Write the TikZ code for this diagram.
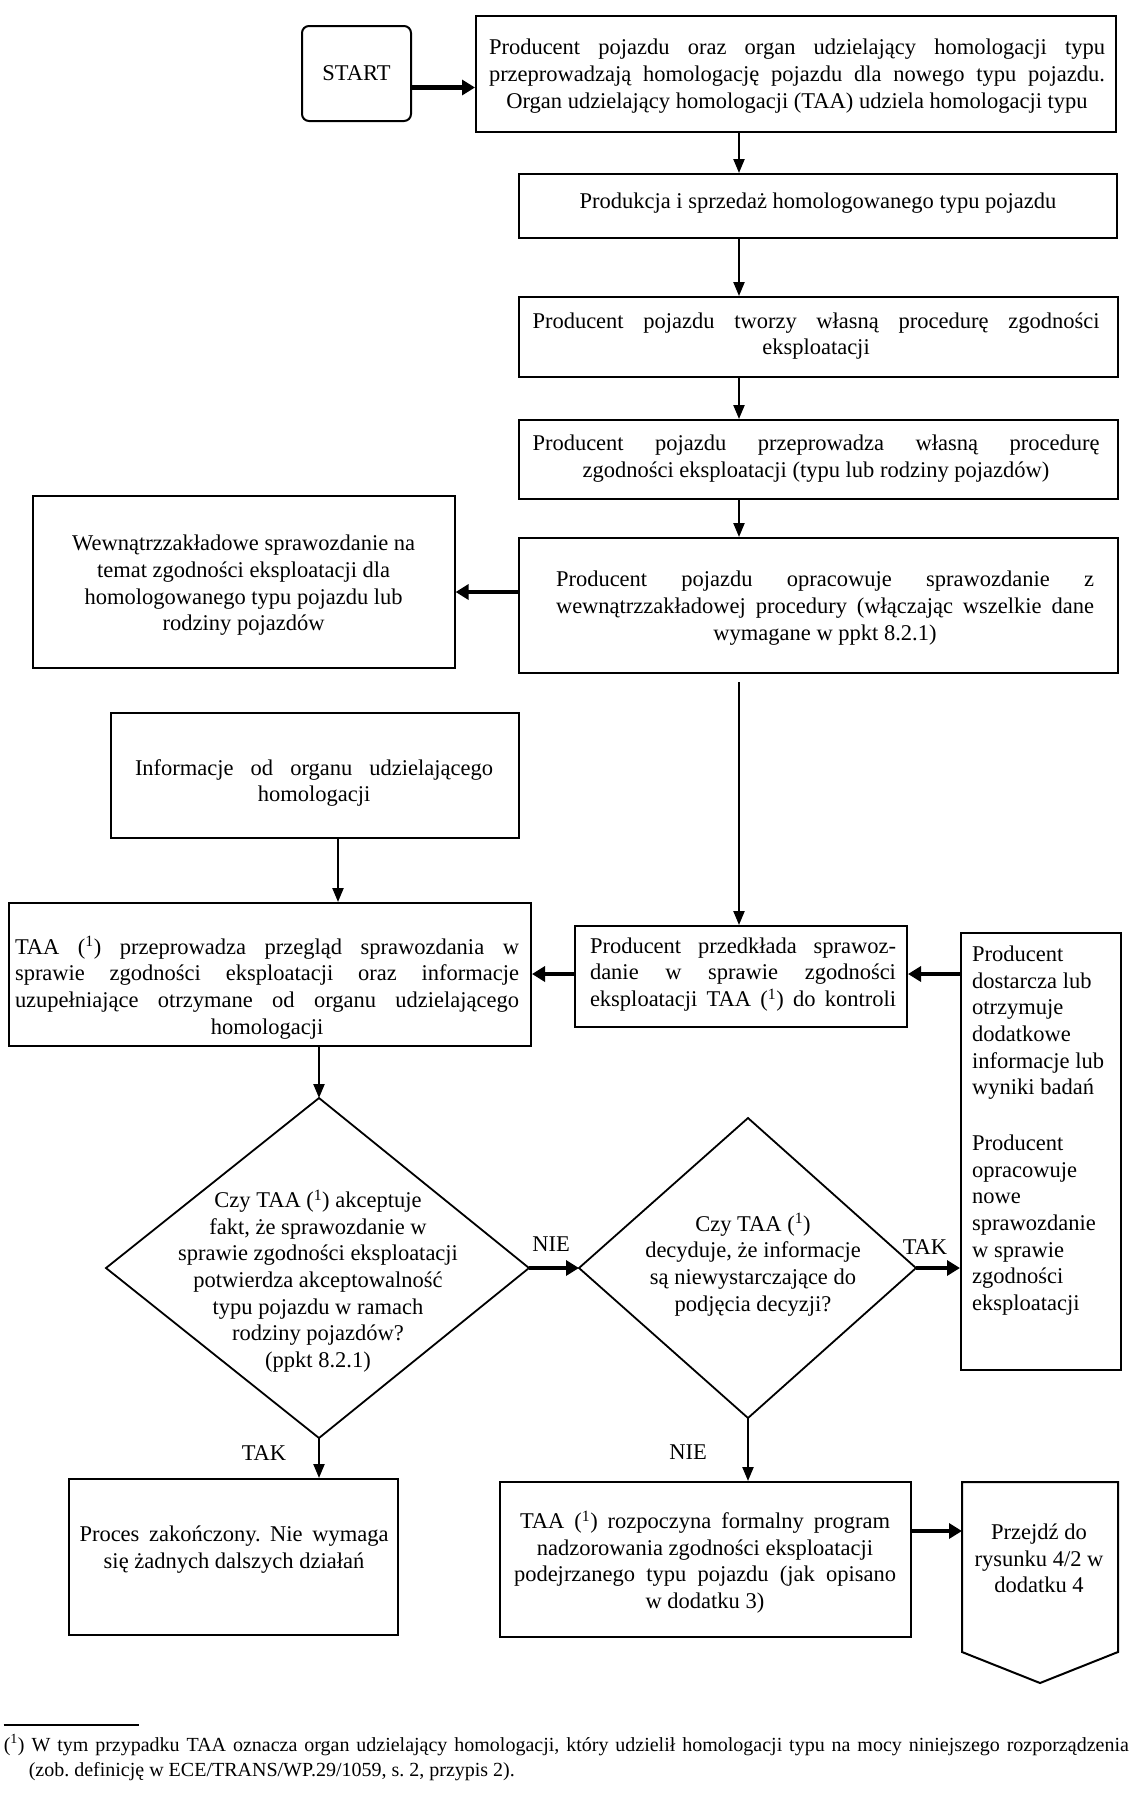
\documentclass[tikz,border=0pt]{standalone}
\usepackage{fontspec}
\setmainfont{Liberation Serif}
\usetikzlibrary{arrows.meta,calc}
\newcommand\jl[2]{\makebox[#1pt][s]{#2}}
\newcommand\fnm{(\textsuperscript{1})}
\frenchspacing
\begin{document}
\begin{tikzpicture}[x=1pt,y=-1pt,
  box/.style={draw, line width=2pt, inner sep=0pt},
  txt/.style={align=center, inner sep=0pt, font=\fontsize{22.5}{26.67}\selectfont},
  dia/.style={draw, line width=1.8pt, line join=miter},
  thinarrow/.style={line width=2.2pt, -{Triangle[length=14pt,width=11pt]}},
  thickarrow/.style={line width=4.5pt, -{Triangle[length=13pt,width=15pt]}},
  lbl/.style={inner sep=0pt, font=\fontsize{22.5}{26.67}\selectfont}]
\fill[white] (0,0) rectangle (1135,1797);
\useasboundingbox (0,0) rectangle (1135,1797);

% ---- boxes ----
\node[box, rounded corners=7pt, minimum width=109, minimum height=95] (start) at (356.5,73.5) {};
\node[txt] (start-t) at (356.5,73) {START};

\node[box, minimum width=640, minimum height=116] (b1) at (796,74) {};
\node[txt] (b1-t) at (797,76) {\jl{616}{Producent pojazdu oraz organ udzielający homologacji typu}\\
\jl{616}{przeprowadzają homologację pojazdu dla nowego typu pojazdu.}\\
Organ udzielający homologacji (TAA) udziela homologacji typu};

\node[box, minimum width=598, minimum height=64] (b2) at (818,206) {};
\node[txt] (b2-t) at (818,203) {Produkcja i sprzedaż homologowanego typu pojazdu};

\node[box, minimum width=599, minimum height=80] (b3) at (818.5,337) {};
\node[txt] (b3-t) at (816,336) {\jl{567}{Producent pojazdu tworzy własną procedurę zgodności}\\eksploatacji};

\node[box, minimum width=599, minimum height=79] (b4) at (818.5,459.5) {};
\node[txt] (b4-t) at (816,458.5) {\jl{567}{Producent pojazdu przeprowadza własną procedurę}\\zgodności eksploatacji (typu lub rodziny pojazdów)};

\node[box, minimum width=599, minimum height=135] (b5) at (818.5,605.5) {};
\node[txt] (b5-t) at (825,608) {\jl{538}{Producent pojazdu opracowuje sprawozdanie z}\\
\jl{538}{wewnątrzzakładowej procedury (włączając wszelkie dane}\\
wymagane w ppkt 8.2.1)};

\node[box, minimum width=422, minimum height=172] (left) at (243.6,582) {};
\node[txt] (left-t) at (243.6,585.5) {Wewnątrzzakładowe sprawozdanie na\\temat zgodności eksploatacji dla\\homologowanego typu pojazdu lub\\rodziny pojazdów};

\node[box, minimum width=408, minimum height=125] (info) at (315,775.5) {};
\node[txt] (info-t) at (314,783) {\jl{358}{Informacje od organu udzielającego}\\homologacji};

\node[box, minimum width=522, minimum height=143] (review) at (270,974.5) {};
\node[txt] (review-t) at (267,987.5) {\jl{504}{TAA \fnm{} przeprowadza przegląd sprawozdania w}\\
\jl{504}{sprawie zgodności eksploatacji oraz informacje}\\
\jl{504}{uzupełniające otrzymane od organu udzielającego}\\
homologacji};

\node[box, minimum width=332, minimum height=101] (przed) at (741,976.5) {};
\node[txt] (przed-t) at (743,974.5) {\jl{306}{Producent przedkłada sprawoz-}\\
\jl{306}{danie w sprawie zgodności}\\
\jl{306}{eksploatacji TAA \fnm{} do kontroli}};

\node[box, minimum width=160, minimum height=437] (right) at (1041,1151.5) {};
\node[txt, align=left, anchor=west] (right-t) at (972,1130.5) {Producent\\dostarcza lub\\otrzymuje\\dodatkowe\\informacje lub\\wyniki badań\\[29pt]Producent\\opracowuje\\nowe\\sprawozdanie\\w sprawie\\zgodności\\eksploatacji};

% ---- diamonds ----
\coordinate (d1n) at (319,1098);
\coordinate (d1e) at (529,1268);
\coordinate (d1s) at (319,1438);
\coordinate (d1w) at (106,1268);
\draw[dia] (d1n) -- (d1e) -- (d1s) -- (d1w) -- cycle;
\node[txt] (d1-t) at (318,1281) {Czy TAA \fnm{} akceptuje\\fakt, że sprawozdanie w\\sprawie zgodności eksploatacji\\potwierdza akceptowalność\\typu pojazdu w ramach\\rodziny pojazdów?\\(ppkt 8.2.1)};

\coordinate (d2n) at (748,1118);
\coordinate (d2e) at (916,1268);
\coordinate (d2s) at (748,1418);
\coordinate (d2w) at (579,1268);
\draw[dia] (d2n) -- (d2e) -- (d2s) -- (d2w) -- cycle;
\node[txt] (d2-t) at (753,1264.5) {Czy TAA \fnm{}\\decyduje, że informacje\\są niewystarczające do\\podjęcia decyzji?};

% ---- bottom boxes ----
\node[box, minimum width=329, minimum height=156] (proces) at (233.5,1557) {};
\node[txt] (proces-t) at (234,1549.5) {\jl{309}{Proces zakończony. Nie wymaga}\\się żadnych dalszych działań};

\node[box, minimum width=411, minimum height=155] (rozp) at (705.5,1559.5) {};
\node[txt] (rozp-t) at (705,1562) {\jl{370}{TAA \fnm{} rozpoczyna formalny program}\\
nadzorowania zgodności eksploatacji\\
\jl{382}{podejrzanego typu pojazdu (jak opisano}\\
w dodatku 3)};

\coordinate (pw) at (962,1531);
\draw[line width=2pt, line join=miter] (962,1482) -- (1118,1482) -- (1118,1652) -- (1040,1683) -- (962,1652) -- cycle;
\node[txt] (pent-t) at (1039,1558.5) {Przejdź do\\rysunku 4/2 w\\dodatku 4};

% ---- connectors ----
\coordinate (cx) at (739,0);
\coordinate (cx2) at (338,0);
\coordinate (y1) at (0,87.5);
\coordinate (y2) at (0,592);
\coordinate (y3) at (0,974);
\coordinate (y4) at (0,1531);
\coordinate (y5) at (0,682);

\draw[thickarrow] (start.east |- y1) -- (b1.west |- y1);
\draw[thinarrow] (b1.south -| cx) -- (b2.north -| cx);
\draw[thinarrow] (b2.south -| cx) -- (b3.north -| cx);
\draw[thinarrow] (b3.south -| cx) -- (b4.north -| cx);
\draw[thinarrow] (b4.south -| cx) -- (b5.north -| cx);
\draw[thickarrow] (b5.west |- y2) -- (left.east |- y2);
\draw[thinarrow] (cx |- y5) -- (przed.north -| cx);
\draw[thinarrow] (info.south -| cx2) -- (review.north -| cx2);
\draw[thickarrow] (przed.west |- y3) -- (review.east |- y3);
\draw[thickarrow] (right.west |- y3) -- (przed.east |- y3);
\draw[thinarrow] (review.south -| d1n) -- (d1n);
\draw[thickarrow] (d1e) -- (d2w);
\draw[thickarrow] (d2e) -- (right.west |- d2e);
\draw[thinarrow] (d1s) -- (proces.north -| d1s);
\draw[thinarrow] (d2s) -- (rozp.north -| d2s);
\draw[thickarrow] (rozp.east |- y4) -- (pw);

% ---- labels ----
\node[lbl] (l-nie1) at (551,1244) {NIE};
\node[lbl] (l-tak1) at (925,1247) {TAK};
\node[lbl] (l-tak2) at (264,1453) {TAK};
\node[lbl] (l-nie2) at (688,1452) {NIE};

% ---- footnote ----
\draw[line width=1.2pt] (3.6,1725) -- (139,1725);
\node[anchor=west, align=left, inner sep=0pt, font=\fontsize{20}{25}\selectfont] (fn) at (3.6,1757.5)
{\jl{1125}{\fnm{} W tym przypadku TAA oznacza organ udzielający homologacji, który udzielił homologacji typu na mocy niniejszego rozporządzenia}\\
\hspace*{25pt}(zob. definicję w ECE/TRANS/WP.29/1059, s. 2, przypis 2).};
\end{tikzpicture}
\end{document}
